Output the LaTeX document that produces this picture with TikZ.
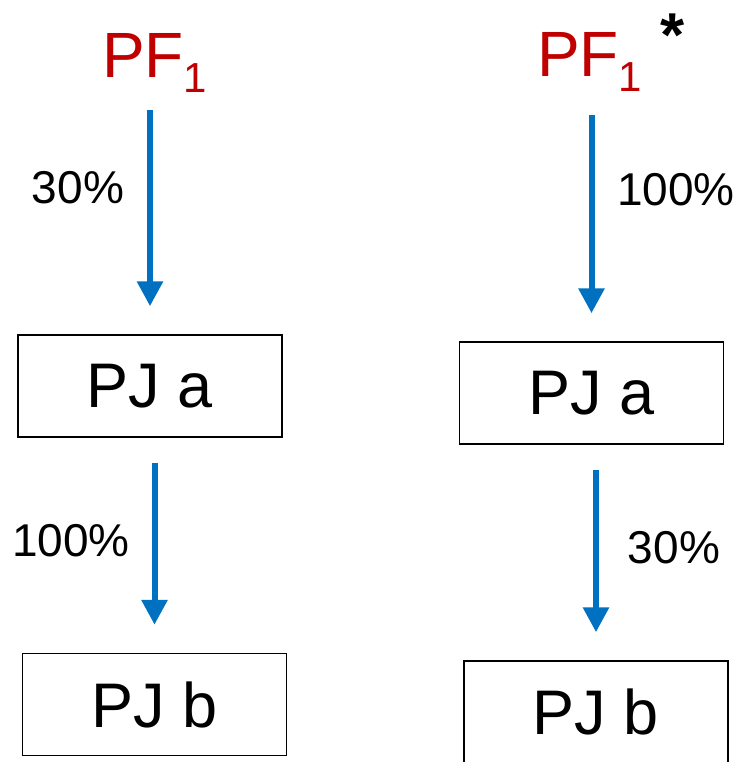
\documentclass[tikz,border=0pt]{standalone}
\usepackage{fontspec}
\setmainfont{Liberation Sans}
\usetikzlibrary{arrows.meta}
\definecolor{pfred}{HTML}{C00000}
\definecolor{flowblue}{HTML}{0070C0}
\tikzset{
  pjbox/.style={draw, line width=1.5pt, minimum width=264pt, minimum height=102pt,
    inner sep=0pt, font=\fontsize{63}{63}\selectfont},
  pflabel/.style={text=pfred, inner sep=0pt, anchor=base west, font=\fontsize{64}{64}\selectfont},
  share/.style={inner sep=0pt, font=\fontsize{46}{46}\selectfont},
  flow/.style={flowblue, line width=6pt, -{Triangle[width=25pt,length=25pt]},
    shorten <=25pt, shorten >=28pt}
}
\newcommand{\pfone}{PF\raisebox{-15pt}{\fontsize{42}{42}\selectfont 1}}

\begin{document}
\begin{tikzpicture}[x=1pt,y=-1pt]
        \clip (0,0) rectangle (739,762);
        % Left chain
        \node[pflabel] (pfl) at (102,78) {\pfone};
        \node[pjbox] (pjal) at (150,386) {PJ a};
        \node[pjbox] (pjbl) at (154.5,704.5) {PJ b};
        \draw[flow, shorten <=17pt] (pjal.north |- pfl.south) -- (pjal.north);
        \draw[flow] (pjbl.north |- pjal.south) -- (pjbl.north);
        \node[share] (ll1) at (78,188) {30\%};
        \node[share] (ll2) at (71,541) {100\%};
        % Right chain
        \node[pflabel] (pfr) at (537,77) {\pfone};
        \node[font=\bfseries\fontsize{62}{62}\selectfont, inner sep=0pt] (star) at (673,35) {*};
        \node[pjbox] (pjar) at (591.5,393) {PJ a};
        \node[pjbox] (pjbr) at (596,712) {PJ b};
        \draw[flow, shorten <=23pt] (pjar.north |- pfr.south) -- (pjar.north);
        \draw[flow] (pjbr.north |- pjar.south) -- (pjbr.north);
        \node[share] (rl1) at (676,190) {100\%};
        \node[share] (rl2) at (674,548) {30\%};
\end{tikzpicture}
\end{document}
